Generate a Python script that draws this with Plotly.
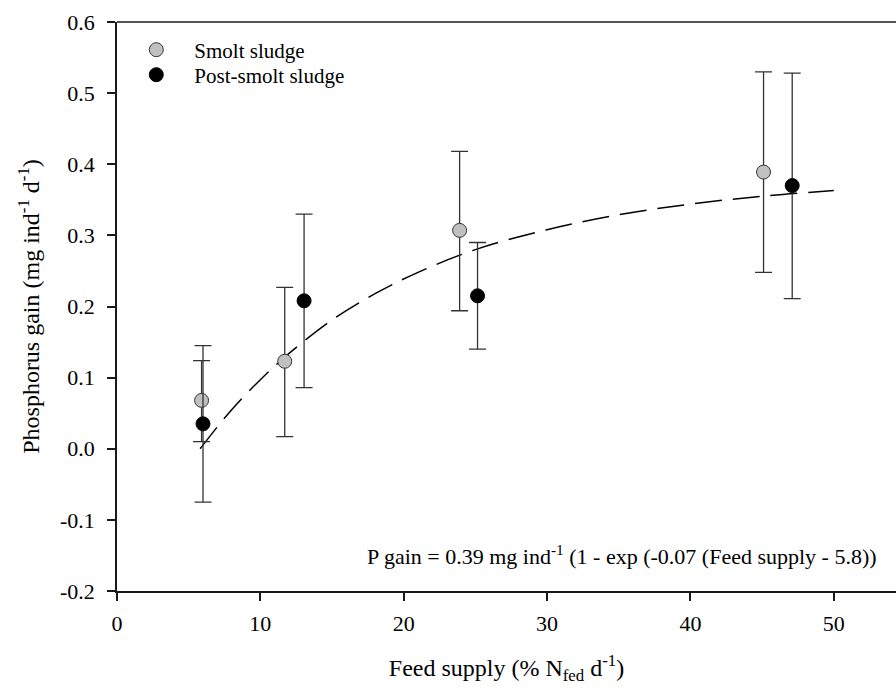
import plotly.graph_objects as go

# ---- data ----
smolt_x = [5.9, 11.7, 23.9, 45.1]
smolt_y = [0.068, 0.123, 0.307, 0.389]
smolt_hi = [0.124, 0.227, 0.418, 0.530]
smolt_lo = [0.010, 0.017, 0.194, 0.248]

post_x = [6.0, 13.05, 25.15, 47.1]
post_y = [0.035, 0.208, 0.215, 0.370]
post_hi = [0.145, 0.330, 0.290, 0.528]
post_lo = [-0.075, 0.086, 0.140, 0.211]

fit_x = [5.8, 8, 10, 12, 15, 18, 21, 25, 30, 35, 40, 45, 50]
fit_y = [0.0, 0.055, 0.097, 0.134, 0.181, 0.218, 0.248, 0.280, 0.308, 0.329, 0.344, 0.355, 0.363]

x_ticks = [0, 10, 20, 30, 40, 50]
y_ticks = [-0.2, -0.1, 0.0, 0.1, 0.2, 0.3, 0.4, 0.5, 0.6]
y_ticktext = ["-0.2", "-0.1", "0.0", "0.1", "0.2", "0.3", "0.4", "0.5", "0.6"]

FONT = "Liberation Serif"
AX = "#1a1a1a"

def err(hi, lo, y):
    return dict(type="data", symmetric=False,
                array=[h - v for h, v in zip(hi, y)],
                arrayminus=[v - l for v, l in zip(y, lo)],
                color="#333333", thickness=1.3, width=8.5)

fig = go.Figure()
fig.add_trace(go.Scatter(x=fit_x, y=fit_y, mode="lines", showlegend=False,
                         line=dict(color="black", width=1.5, dash="27px,11px", shape="spline"),
                         hoverinfo="skip"))
fig.add_trace(go.Scatter(x=smolt_x, y=smolt_y, mode="markers", name="Smolt sludge",
                         marker=dict(size=14, color="#c0c0c0", line=dict(color="#333333", width=1)),
                         error_y=err(smolt_hi, smolt_lo, smolt_y), legend="legend"))
fig.add_trace(go.Scatter(x=post_x, y=post_y, mode="markers", name="Post-smolt sludge",
                         marker=dict(size=14, color="black", line=dict(color="black", width=1)),
                         error_y=err(post_hi, post_lo, post_y), legend="legend2"))

L, T, B = 116.7, 22, 100.3
W, H = 896, 691
pw = W - L
ph = H - T - B

def py(px_y):
    return (H - B - px_y) / ph

def px(px_x):
    return (px_x - L) / pw

leg_common = dict(font=dict(family=FONT, size=21, color="black"), bgcolor="rgba(0,0,0,0)",
                  xanchor="left", yanchor="middle", itemwidth=66, borderwidth=0)

fig.update_layout(
    width=W, height=H,
    margin=dict(l=L, r=0, t=T, b=B, pad=0),
    paper_bgcolor="white", plot_bgcolor="white",
    font=dict(family=FONT, size=22, color="black"),
    legend=dict(x=px(118), y=py(50), **leg_common),
    legend2=dict(x=px(118), y=py(75), **leg_common),
    xaxis=dict(range=[0, 54.34], tickvals=x_ticks, ticks="outside", ticklen=8, tickwidth=1.5,
               tickcolor=AX, showline=True, linecolor=AX, linewidth=1.5, showgrid=False,
               zeroline=False, tickfont=dict(family=FONT, size=22), ticklabelstandoff=4,
               title=dict(text="Feed supply (% N<sub>fed</sub> d<sup>-1</sup>)",
                          font=dict(family=FONT, size=24), standoff=24)),
    yaxis=dict(range=[-0.2, 0.6], tickvals=y_ticks, ticktext=y_ticktext, ticks="outside", ticklen=8,
               tickwidth=1.5, tickcolor=AX, showline=True, linecolor=AX, linewidth=1.5,
               showgrid=False, zeroline=False, tickfont=dict(family=FONT, size=22), ticklabelstandoff=8,
               title=dict(text="Phosphorus gain (mg ind<sup>-1</sup> d<sup>-1</sup>)",
                          font=dict(family=FONT, size=24), standoff=14)),
    shapes=[dict(type="line", xref="paper", yref="paper", x0=0, x1=1, y0=1, y1=1,
                 line=dict(color=AX, width=1.5))],
    annotations=[dict(xref="paper", yref="paper", x=px(879), y=py(555), xanchor="right",
                      yanchor="middle", showarrow=False,
                      text="P gain = 0.39 mg ind<sup>-1</sup> (1 - exp (-0.07 (Feed supply - 5.8))",
                      font=dict(family=FONT, size=22, color="black"))],
)

fig.write_html("out.html")
